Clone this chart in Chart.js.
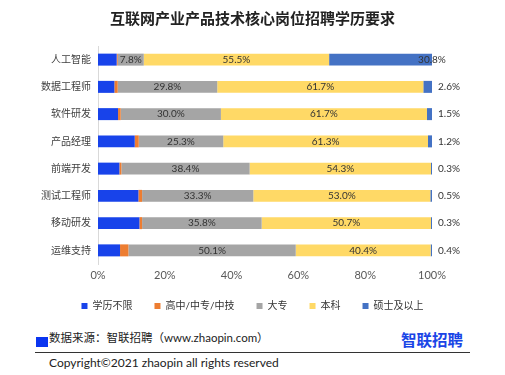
<!DOCTYPE html>
<html>
<head>
<meta charset="utf-8">
<script src="https://cdn.jsdelivr.net/npm/chart.js@4"></script>
<style>
  body { margin: 0; background: #fff; }
  #wrap { position: relative; width: 505px; height: 375px; font-family: Lato, "Noto Sans CJK SC", sans-serif; color: #222; }
  #chartBox { position: absolute; left: 0; top: 0; width: 505px; height: 321px; }
  .src-mark { position: absolute; left: 36px; top: 337px; width: 12px; height: 10px; background: #0b35f0; }
  .src { position: absolute; left: 49px; top: 330px; font-size: 11.5px; line-height: 16px; white-space: nowrap; }
  .logo { position: absolute; left: 401px; top: 329px; font-size: 15.5px; font-weight: bold; color: #1a45e6; line-height: 20px; font-family: "Noto Sans CJK SC", sans-serif; }
  .rule { position: absolute; left: 35px; top: 352px; width: 435px; height: 1px; background: #333; }
  .copy { position: absolute; left: 49px; top: 355px; font-size: 12px; line-height: 16px; white-space: nowrap; }
</style>
</head>
<body>
<div id="wrap">
  <div id="chartBox"><canvas id="eduChart"></canvas></div>
  <div class="src-mark"></div>
  <div class="src">数据来源：智联招聘（www.zhaopin.com）</div>
  <div class="logo">智联招聘</div>
  <div class="rule"></div>
  <div class="copy">Copyright©2021 zhaopin all rights reserved</div>
</div>
<script>
  const categories = ["人工智能", "数据工程师", "软件研发", "产品经理", "前端开发", "测试工程师", "移动研发", "运维支持"];
  const seriesNames = ["学历不限", "高中/中专/中技", "大专", "本科", "硕士及以上"];
  const anyEdu = [5.6, 4.9, 6.0, 11.0, 6.4, 12.1, 12.4, 6.6];
  const highSchool = [0.3, 1.0, 0.8, 1.2, 0.6, 1.1, 0.8, 2.5];
  const college = [7.8, 29.8, 30.0, 25.3, 38.4, 33.3, 35.8, 50.1];
  const bachelor = [55.5, 61.7, 61.7, 61.3, 54.3, 53.0, 50.7, 40.4];
  const master = [30.8, 2.6, 1.5, 1.2, 0.3, 0.5, 0.3, 0.4];
  const xTicks = [0, 20, 40, 60, 80, 100];

  const colors = ["#1843ea", "#ed7d31", "#a5a5a5", "#ffd966", "#4472c4"];
  const values = [anyEdu, highSchool, college, bachelor, master];

  Chart.defaults.font.family = 'Lato, "Noto Sans CJK SC", sans-serif';

  // value labels: middle of bar for 大专/本科, outside end for 硕士及以上
  const valueLabels = {
    id: "valueLabels",
    afterDatasetsDraw(chart) {
      const ctx = chart.ctx;
      ctx.save();
      ctx.font = '10px Lato, "Noto Sans CJK SC", sans-serif';
      ctx.fillStyle = "#333";
      ctx.textBaseline = "middle";
      [2, 3, 4].forEach(function (di) {
        const meta = chart.getDatasetMeta(di);
        meta.data.forEach(function (bar, i) {
          const v = chart.data.datasets[di].data[i];
          const txt = v.toFixed(1) + "%";
          if (di === 4) {
            if (v > 10) {
              ctx.textAlign = "center";
              ctx.fillText(txt, bar.x, bar.y);
            } else {
              ctx.textAlign = "left";
              ctx.fillText(txt, chart.chartArea.right + 6, bar.y);
            }
          } else {
            ctx.textAlign = "center";
            ctx.fillText(txt, (bar.x + bar.base) / 2, bar.y);
          }
        });
      });
      ctx.restore();
    }
  };

  new Chart(document.getElementById("eduChart"), {
    type: "bar",
    data: {
      labels: categories,
      datasets: seriesNames.map(function (name, i) {
        return {
          label: name,
          data: values[i],
          backgroundColor: colors[i],
          borderWidth: 0,
          barPercentage: 0.44,
          categoryPercentage: 1.0
        };
      })
    },
    options: {
      indexAxis: "y",
      responsive: true,
      maintainAspectRatio: false,
      animation: false,
      scales: {
        x: {
          stacked: true,
          min: 0,
          max: 100,
          afterBuildTicks: function (scale) {
            scale.ticks = xTicks.map(function (v) { return { value: v }; });
          },
          afterFit: function (scale) { scale.height = 15; },
          grid: { display: false, drawTicks: false },
          border: { display: false },
          ticks: {
            padding: 5,
            color: "#595959",
            font: { size: 11 },
            callback: function (v) { return v + "%"; }
          }
        },
        y: {
          stacked: true,
          afterFit: function (scale) { scale.width = 98; },
          grid: { display: false, drawTicks: false },
          border: { display: true, color: "#d9d9d9" },
          ticks: { padding: 7, color: "#404040", font: { size: 10 } }
        },
        // empty right axis keeps the plot narrow while title/legend stay centred
        yRight: {
          type: "category",
          position: "right",
          afterFit: function (scale) { scale.width = 73; },
          grid: { display: false, drawTicks: false },
          border: { display: false },
          ticks: { display: false }
        }
      },
      plugins: {
        title: {
          display: true,
          text: "互联网产业产品技术核心岗位招聘学历要求",
          color: "#222",
          font: { size: 15, weight: "bold", family: '"Noto Sans CJK SC", sans-serif' },
          padding: { top: 9, bottom: 19 }
        },
        legend: {
          position: "bottom",
          labels: {
            boxWidth: 6,
            boxHeight: 6,
            padding: 22,
            color: "#333",
            font: { size: 10 }
          }
        },
        tooltip: { enabled: false }
      }
    },
    plugins: [valueLabels]
  });
</script>
</body>
</html>
